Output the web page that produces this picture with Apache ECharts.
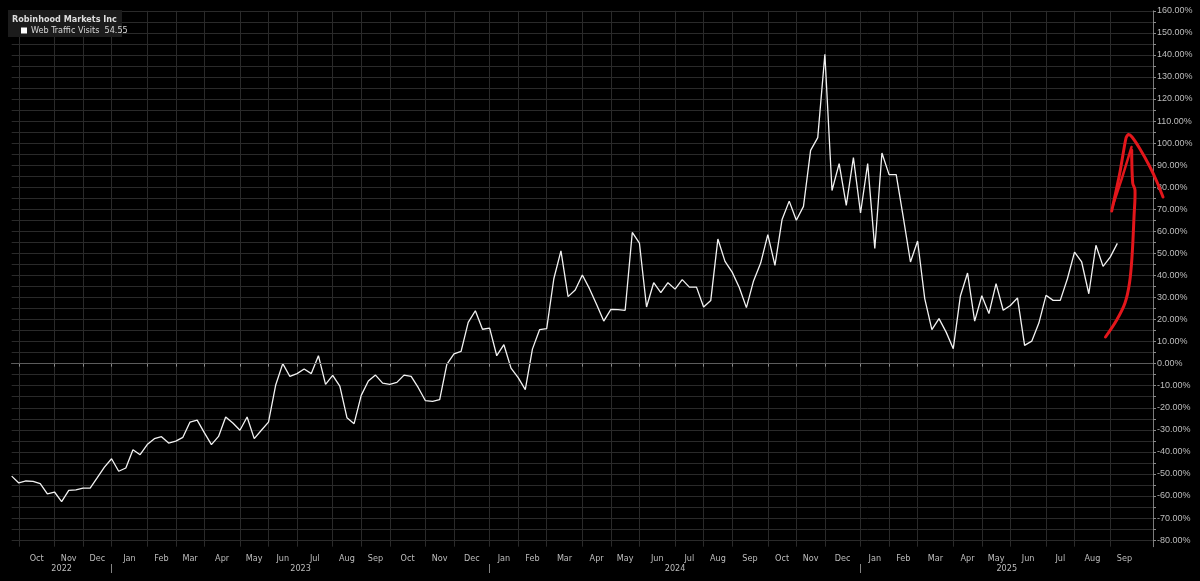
<!DOCTYPE html>
<html><head><meta charset="utf-8">
<script src="https://cdn.jsdelivr.net/npm/echarts@6/dist/echarts.min.js"></script>
<style>html,body{margin:0;padding:0;background:#000}#c{width:1200px;height:581px}</style>
</head><body><div id="c"></div>
<script>
const chartTitle = 'Robinhood Markets Inc';
const seriesName = 'Web Traffic Visits';
const firstWeek = '2022-09-25';   // weekly observations (Sundays)
const axisWeeks = 161;            // axis extends a few weeks past last point
const visits = [
  -51.0, -54.1, -53.2, -53.4, -54.4, -59.1, -58.2, -62.6, -57.5, -57.2,
  -56.4, -56.4, -51.7, -46.9, -43.1, -48.8, -47.3, -39.0, -41.3, -36.7,
  -34.0, -33.1, -36.0, -35.1, -33.4, -26.5, -25.6, -31.3, -36.7, -33.0,
  -24.2, -26.9, -30.2, -24.2, -34.0, -30.2, -26.5, -9.8, 0.0, -5.8,
  -4.5, -2.4, -4.5, 3.6, -9.4, -5.3, -10.2, -24.5, -27.2, -14.4,
  -7.9, -5.2, -8.8, -9.4, -8.5, -5.2, -5.8, -10.9, -16.8, -17.1,
  -16.3, -0.3, 4.4, 5.6, 18.7, 24.0, 15.6, 16.1, 3.6, 8.6,
  -2.0, -6.3, -11.8, 6.6, 15.4, 15.9, 38.5, 51.1, 30.4, 33.4,
  40.2, 34.0, 26.8, 19.3, 24.6, 24.5, 24.2, 59.5, 54.7, 25.7,
  36.7, 32.2, 36.7, 33.8, 38.1, 34.7, 34.7, 25.7, 28.6, 56.5,
  46.4, 41.5, 34.5, 25.4, 37.5, 45.6, 58.5, 44.6, 65.4, 73.7,
  65.0, 71.3, 96.7, 102.5, 140.3, 78.5, 90.7, 71.8, 93.4, 68.3,
  90.7, 52.2, 95.5, 85.7, 85.7, 66.2, 46.1, 55.6, 29.5, 15.4,
  20.4, 14.3, 6.8, 30.7, 41.1, 19.3, 30.8, 22.7, 36.3, 24.2,
  26.4, 29.8, 8.3, 10.2, 18.4, 31.0, 28.7, 28.7, 38.5, 50.6,
  46.1, 31.7, 53.7, 44.1, 48.3, 54.55
];
const monthNames = ['Jan','Feb','Mar','Apr','May','Jun','Jul','Aug','Sep','Oct','Nov','Dec'];
const yLabelValues = [-80,-70,-60,-50,-40,-30,-20,-10,0,10,20,30,40,50,60,70,80,90,100,110,120,130,140,150,160];
const yGridValues = [-80,-75,-70,-65,-60,-55,-50,-45,-40,-35,-30,-25,-20,-15,-10,-5,0,5,10,15,20,25,30,35,40,45,50,55,60,65,70,75,80,85,90,95,100,105,110,115,120,125,130,135,140,145,150,155,160];

// ---- categories (weekly dates) ----
const dates = [];
const d0 = new Date(firstWeek + 'T00:00:00Z');
for (let i = 0; i < axisWeeks; i++) {
  dates.push(new Date(d0.getTime() + i * 7 * 864e5));
}
const cats = dates.map(d => d.toISOString().slice(0, 10));
const seriesData = cats.map((c, i) => i < visits.length ? visits[i] : null);

const gridLeft = 11.7, gridRight = 47, W = 1200;
const step = (W - gridRight - gridLeft) / (axisWeeks - 1);

// month starts (first weekly point in each month)
const monthStarts = [];
dates.forEach((d, i) => { if (d.getUTCDate() <= 7) monthStarts.push(i); });
const tickSet = new Set(monthStarts.filter(i => i < visits.length));

// month labels centred in month span
const monthLabels = new Map();
for (let k = 0; k < monthStarts.length - 1; k++) {
  const a = monthStarts[k], b = monthStarts[k + 1];
  const c = (a + b) / 2;
  const idx = Math.floor(c);
  const half = c !== idx;
  monthLabels.set(idx, (half ? '{h|' : '{n|') + monthNames[dates[a].getUTCMonth()] + '}');
}

// year row
const yearStarts = monthStarts.filter(i => dates[i].getUTCMonth() === 0);
const yearLabels = new Map();
const bounds = [0].concat(yearStarts, [axisWeeks - 1]);
for (let k = 0; k < bounds.length - 1; k++) {
  const a = bounds[k], b = bounds[k + 1];
  const c = (a + b) / 2, idx = Math.floor(c);
  const yr = dates[k === 0 ? a : a].getUTCFullYear();
  yearLabels.set(idx, (c !== idx ? '{h|' : '{n|') + yr + '}');
}
yearStarts.forEach(i => yearLabels.set(i, '{n||}'));

const labelFont = '"Liberation Sans Narrow","DejaVu Sans Condensed",Arial,sans-serif';
const txtCol = '#bdbdbd';
const gridCol = '#2a2a2a';
const richShift = {
  n: { color: txtCol, fontSize: 9, fontFamily: labelFont },
  h: { color: txtCol, fontSize: 9, fontFamily: labelFont, padding: [0, 0, 0, step] }
};

const chart = echarts.init(document.getElementById('c'), null, { renderer: 'canvas' });
chart.setOption({
  backgroundColor: '#000',
  animation: false,
  grid: { left: gridLeft, right: gridRight, top: 10.8, bottom: 34.3, containLabel: false },
  title: {
    text: chartTitle, left: 12, top: 15, padding: 0, z: 6,
    textStyle: { color: '#dedede', fontSize: 9, fontWeight: 'bold', fontFamily: labelFont }
  },
  legend: {
    left: 21, top: 26, padding: 0, itemWidth: 6, itemHeight: 6, itemGap: 4, z: 6,
    icon: 'rect', selectedMode: false,
    formatter: n => n + '  ' + visits[visits.length - 1].toFixed(2),
    textStyle: { color: '#d8d8d8', fontSize: 9, fontFamily: labelFont, padding: [0, 0, 0, -1] },
    data: [seriesName]
  },
  xAxis: [{
    type: 'category', data: cats, boundaryGap: false, position: 'bottom',
    axisLine: { show: true, lineStyle: { color: '#6e6e6e', width: 1 } },
    axisTick: { show: true, interval: i => tickSet.has(i), length: 3, lineStyle: { color: '#8a8a8a' } },
    splitLine: { show: true, interval: i => tickSet.has(i), lineStyle: { color: gridCol, width: 1 } },
    axisLabel: {
      interval: i => monthLabels.has(i), margin: 7,
      formatter: (v, i) => monthLabels.get(i) || '', rich: richShift
    }
  }, {
    type: 'category', data: cats, boundaryGap: false, position: 'bottom',
    axisLine: { show: false }, axisTick: { show: false }, splitLine: { show: false },
    axisLabel: {
      interval: i => yearLabels.has(i), margin: 17,
      formatter: (v, i) => yearLabels.get(i) || '', rich: richShift
    }
  }],
  yAxis: {
    type: 'value', position: 'right', min: -83, max: 160, scale: false,
    axisLine: { show: true, lineStyle: { color: '#7a7a7a' } },
    axisTick: { show: true, customValues: yGridValues, length: 3, lineStyle: { color: '#8a8a8a' } },
    splitLine: { show: true, lineStyle: { color: gridCol, width: 1 } },
    axisLabel: {
      customValues: yLabelValues, margin: 4, color: txtCol, fontSize: 9,
      fontFamily: 'Liberation Sans, Arial, sans-serif',
      formatter: v => v.toFixed(2) + '%'
    }
  },
  series: [{
    name: seriesName, type: 'line', data: seriesData, xAxisIndex: 0,
    showSymbol: false, symbol: 'none', connectNulls: false,
    lineStyle: { color: '#f2f2f2', width: 1.3 },
    itemStyle: { color: '#ffffff' },
    markLine: {
      silent: true, symbol: 'none', label: { show: false },
      lineStyle: { color: '#5c5c5c', width: 1, type: 'solid' },
      data: [{ yAxis: 0 }]
    },
    z: 3
  }],
  graphic: [
    { type: 'rect', shape: { x: 8, y: 10, width: 114, height: 27 }, style: { fill: '#1c1c1c' }, z: 3 },
    { type: 'polyline', z: 10, shape: { smooth: 0.35, points: [[1105.5,337],[1116.7,320],[1125,303],[1129.5,283],[1132,257],[1134,217],[1135,190],[1132.7,183],[1131.7,150]] },
      style: { stroke: '#e3161b', lineWidth: 3, fill: null, lineCap: 'round', lineJoin: 'round' } },
    { type: 'polyline', z: 10, shape: { smooth: 0.25, points: [[1111.7,211],[1120,172],[1126,138],[1128.5,134.5],[1132,137],[1140,149],[1150,167],[1157,182],[1163,197]] },
      style: { stroke: '#e3161b', lineWidth: 3, fill: null, lineCap: 'round', lineJoin: 'round' } },
    { type: 'polyline', z: 10, shape: { smooth: 0.2, points: [[1113,205],[1122,178],[1131.5,147]] },
      style: { stroke: '#e3161b', lineWidth: 2.5, fill: null, lineCap: 'round', lineJoin: 'round' } }
  ]
});
</script></body></html>
